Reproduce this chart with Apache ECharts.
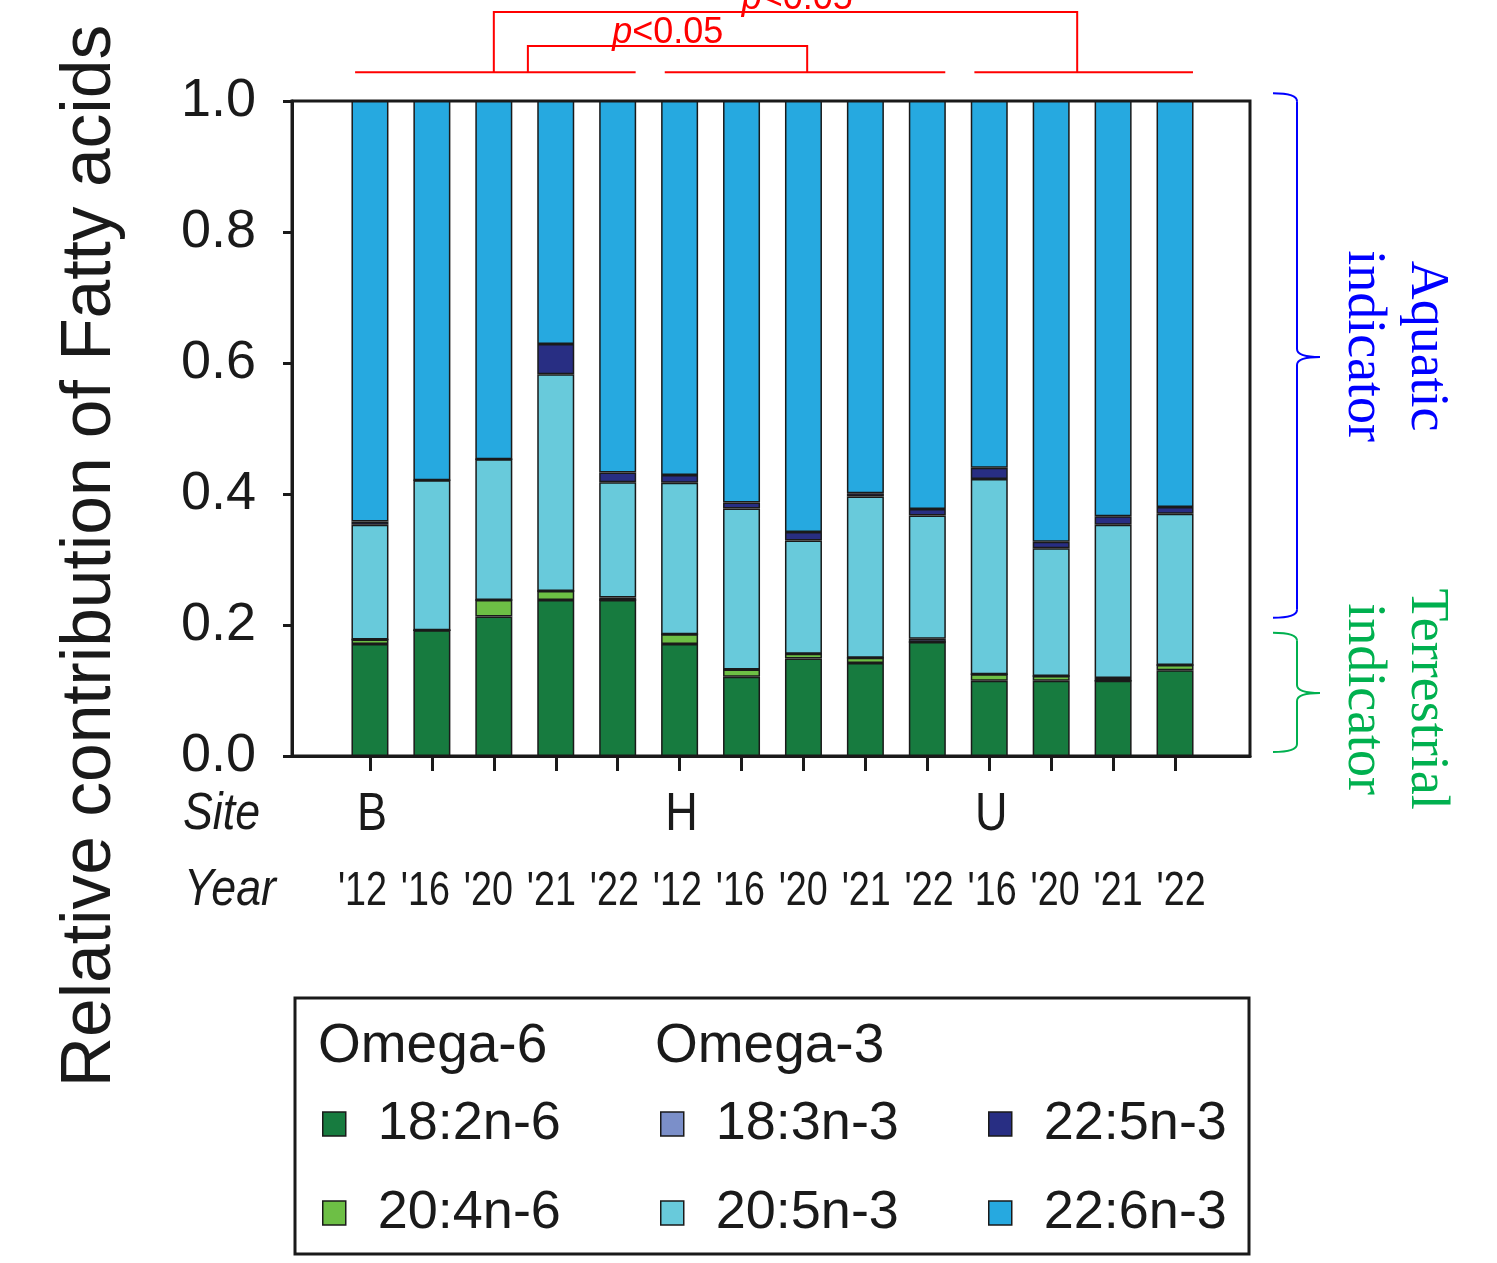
<!DOCTYPE html>
<html>
<head>
<meta charset="utf-8">
<title>Relative contribution of fatty acids</title>
<script src="https://cdn.jsdelivr.net/npm/echarts@6.0.0/dist/echarts.min.js"></script>
<style>
  html, body { margin: 0; padding: 0; background: #ffffff; }
  #chart { width: 1497px; height: 1263px; }
</style>
</head>
<body>
<div id="chart"></div>
<script>
// Sampling sites and years, one stacked bar each
const sites = ['B', 'B', 'B', 'B', 'B', 'H', 'H', 'H', 'H', 'H', 'U', 'U', 'U', 'U'];
const years = ["'12", "'16", "'20", "'21", "'22", "'12", "'16", "'20", "'21", "'22", "'16", "'20", "'21", "'22"];

// Relative contribution of each fatty acid (each bar sums to 1)
const fa18_2n6 = [0.171, 0.192, 0.213, 0.238, 0.238, 0.171, 0.121, 0.149, 0.142, 0.174, 0.115, 0.115, 0.115, 0.131];
const fa20_4n6 = [0.007, 0.000, 0.025, 0.014, 0.000, 0.015, 0.011, 0.007, 0.008, 0.000, 0.010, 0.007, 0.000, 0.008];
const fa18_3n3 = [0.000, 0.000, 0.000, 0.000, 0.004, 0.000, 0.000, 0.000, 0.000, 0.005, 0.000, 0.000, 0.004, 0.000];
const fa20_5n3 = [0.175, 0.229, 0.215, 0.331, 0.176, 0.231, 0.246, 0.173, 0.246, 0.188, 0.298, 0.195, 0.234, 0.231];
const fa22_5n3 = [0.005, 0.000, 0.000, 0.046, 0.015, 0.012, 0.009, 0.013, 0.005, 0.010, 0.017, 0.010, 0.013, 0.010];
const fa22_6n3 = [0.642, 0.579, 0.547, 0.371, 0.567, 0.571, 0.613, 0.658, 0.599, 0.623, 0.560, 0.673, 0.634, 0.620];

const seriesNames = ['18:2n-6', '20:4n-6', '18:3n-3', '20:5n-3', '22:5n-3', '22:6n-3'];
const seriesValues = [fa18_2n6, fa20_4n6, fa18_3n3, fa20_5n3, fa22_5n3, fa22_6n3];
const seriesColors = ['#177b3f', '#6dbf45', '#7b8fc9', '#68cadb', '#282e83', '#26a9e0'];

// Site groups and the significance brackets between them (category units)
const siteGroups = [[0, 4], [5, 9], [10, 13]];
const sigBrackets = [
  { from: 2.55, to: 7.06, level: 1.084, labelAt: 4.81, label: '<0.05' },
  { from: 2.0, to: 11.42, level: 1.136, labelAt: 6.9, label: '<0.05' }
];
const groupLineLevel = 1.044;

// Indicator braces on the right (value units: top, tip, bottom)
const aquaticSpan = [1.012, 0.609, 0.211];
const terrestrialSpan = [0.188, 0.096, 0.006];

const categories = sites.map((s, i) => s + years[i]);

const INK = '#1a1a1a';
const SANS = '"Liberation Sans", Arial, sans-serif';
const SERIF = '"Liberation Serif", "Times New Roman", serif';

const chart = echarts.init(document.getElementById('chart'), null, { renderer: 'canvas' });

const option = {
  animation: false,
  backgroundColor: '#ffffff',
  grid: [
    { left: 292, top: 101, width: 958, height: 655, show: true, borderColor: INK, borderWidth: 3,
      backgroundColor: 'transparent', outerBoundsMode: 'none', containLabel: false },
    { left: 339, top: 101, width: 867, height: 655, outerBoundsMode: 'none', containLabel: false }
  ],
  xAxis: [
    { gridIndex: 0, type: 'value', min: 0, max: 1,
      axisLine: { show: true, lineStyle: { color: INK, width: 3 } },
      axisTick: { show: false }, axisLabel: { show: false }, splitLine: { show: false } },
    { gridIndex: 1, type: 'category', data: categories,
      axisLine: { show: false },
      axisTick: { show: true, alignWithLabel: true, length: 15, lineStyle: { color: INK, width: 3 } },
      axisLabel: { show: false },
      splitLine: { show: false } }
  ],
  yAxis: [
    { gridIndex: 0, type: 'value', min: 0, max: 1, interval: 0.2,
      axisLine: { show: true, lineStyle: { color: INK, width: 3 } },
      axisTick: { show: true, inside: false, length: 9, lineStyle: { color: INK, width: 3 } },
      axisLabel: { margin: 36, fontFamily: SANS, fontSize: 54, color: INK, formatter: v => v.toFixed(1) },
      splitLine: { show: false } },
    { gridIndex: 1, type: 'value', min: 0, max: 1, show: false, splitLine: { show: false } }
  ],
  legend: [
    { data: seriesNames.slice(0, 2), left: 322 },
    { data: seriesNames.slice(2, 4), left: 660 },
    { data: seriesNames.slice(4, 6), left: 988 }
  ].map(l => Object.assign(l, {
    orient: 'vertical', top: 1097, padding: 0, itemGap: 35,
    icon: 'rect', itemWidth: 23, itemHeight: 24,
    itemStyle: { borderColor: INK, borderWidth: 1.5 },
    selectedMode: false,
    textStyle: { fontFamily: SANS, fontSize: 54, color: INK, lineHeight: 54, padding: [0, 0, 0, 27] }
  })),
  series: seriesNames.map((name, k) => ({
    name: name,
    type: 'bar',
    stack: 'fa',
    xAxisIndex: 1,
    yAxisIndex: 1,
    barWidth: 37,
    data: seriesValues[k],
    itemStyle: { color: seriesColors[k], borderColor: INK, borderWidth: 1.5 },
    emphasis: { disabled: true }
  }))
};

chart.setOption(option);

// Overlays placed through the axes' own scales
function px(c) {
  const p0 = chart.convertToPixel({ xAxisIndex: 1 }, 0);
  const p1 = chart.convertToPixel({ xAxisIndex: 1 }, 1);
  return p0 + c * (p1 - p0);
}
function py(v) {
  return chart.convertToPixel({ yAxisIndex: 1 }, v);
}

const RED = '#ff0000';
const graphics = [];

// Group baselines above each site
siteGroups.forEach(g => {
  graphics.push({
    type: 'line', z: 10,
    shape: { x1: px(g[0] - 0.24), y1: py(groupLineLevel), x2: px(g[1] + 0.29), y2: py(groupLineLevel) },
    style: { stroke: RED, lineWidth: 2 }
  });
});

// Significance brackets with labels
sigBrackets.forEach(b => {
  const yb = py(groupLineLevel), yl = py(b.level);
  graphics.push({
    type: 'polyline', z: 10,
    shape: { points: [[px(b.from), yb], [px(b.from), yl], [px(b.to), yl], [px(b.to), yb]] },
    style: { stroke: RED, lineWidth: 2, fill: null }
  });
  graphics.push({
    type: 'text', z: 11,
    x: px(b.labelAt), y: yl + 5,
    style: {
      text: '{i|p}{n|' + b.label + '}',
      align: 'center', verticalAlign: 'bottom',
      rich: {
        i: { fontFamily: SANS, fontSize: 36, fontStyle: 'italic', fill: RED, lineHeight: 36 },
        n: { fontFamily: SANS, fontSize: 36, fill: RED, lineHeight: 36 }
      }
    }
  });
});

// Curly braces marking the indicator groups
function brace(span, color) {
  const xe = 1250 + 23, xs = 1250 + 47, xp = 1250 + 70, r = 8;
  const yt = py(span[0]), ym = py(span[1]), yb = py(span[2]);
  const st = { stroke: color, lineWidth: 2, fill: null };
  return [
    { type: 'bezierCurve', z: 10, shape: { x1: xe, y1: yt, x2: xs, y2: yt + r, cpx1: xs, cpy1: yt }, style: st },
    { type: 'line', z: 10, shape: { x1: xs, y1: yt + r, x2: xs, y2: ym - r }, style: st },
    { type: 'bezierCurve', z: 10, shape: { x1: xs, y1: ym - r, x2: xp, y2: ym, cpx1: xs, cpy1: ym }, style: st },
    { type: 'bezierCurve', z: 10, shape: { x1: xp, y1: ym, x2: xs, y2: ym + r, cpx1: xs, cpy1: ym }, style: st },
    { type: 'line', z: 10, shape: { x1: xs, y1: ym + r, x2: xs, y2: yb - r }, style: st },
    { type: 'bezierCurve', z: 10, shape: { x1: xs, y1: yb - r, x2: xe, y2: yb, cpx1: xs, cpy1: yb }, style: st }
  ];
}
const BLUE = '#0000ff', GREEN = '#00b04f';
graphics.push(...brace(aquaticSpan, BLUE));
graphics.push(...brace(terrestrialSpan, GREEN));

graphics.push({
  type: 'text', z: 10, x: 1395, y: py(aquaticSpan[1]) - 11, rotation: -Math.PI / 2,
  style: { text: 'Aquatic\nindicator', font: '54px ' + SERIF, fill: BLUE, align: 'center', verticalAlign: 'middle', lineHeight: 63 }
});
graphics.push({
  type: 'text', z: 10, x: 1395, y: py(terrestrialSpan[1]) + 6, rotation: -Math.PI / 2,
  style: { text: 'Terrestrial\nindicator', font: '54px ' + SERIF, fill: GREEN, align: 'center', verticalAlign: 'middle', lineHeight: 63 }
});

// Y axis title
graphics.push({
  type: 'text', z: 10, x: 91, y: 556, rotation: Math.PI / 2,
  style: { text: 'Relative contribution of Fatty acids', font: '69.5px ' + SANS, fill: INK, align: 'center', verticalAlign: 'middle' }
});

// Category captions: site (first bar of each group) and year, under each tick.
// The year row is set slightly wider than the tick spacing.
const yearSpread = 1.04;
categories.forEach((c, i) => {
  if (i === 0 || sites[i] !== sites[i - 1]) {
    graphics.push({
      type: 'text', z: 10, x: px(i) + 2, y: 815, scaleX: 0.85,
      style: { text: sites[i], font: '53px ' + SANS, fill: INK, align: 'center', verticalAlign: 'middle' }
    });
  }
  graphics.push({
    type: 'text', z: 10, x: px(i) - 7.5 + i * yearSpread, y: 891, scaleX: 0.77,
    style: { text: years[i], font: '49px ' + SANS, fill: INK, align: 'center', verticalAlign: 'middle' }
  });
});
graphics.push({
  type: 'text', z: 10, x: 183, y: 815, scaleX: 0.86,
  style: { text: 'Site', font: 'italic 52px ' + SANS, fill: INK, align: 'left', verticalAlign: 'middle' }
});
graphics.push({
  type: 'text', z: 10, x: 184, y: 891, scaleX: 0.86,
  style: { text: 'Year', font: 'italic 52px ' + SANS, fill: INK, align: 'left', verticalAlign: 'middle' }
});

// Legend frame and column headers
graphics.push({
  type: 'rect', z: 1, shape: { x: 295, y: 998, width: 954, height: 256 },
  style: { stroke: INK, lineWidth: 3, fill: null }
});
graphics.push({
  type: 'text', z: 10, x: 318, y: 1047,
  style: { text: 'Omega-6', font: '55px ' + SANS, fill: INK, align: 'left', verticalAlign: 'middle' }
});
graphics.push({
  type: 'text', z: 10, x: 655, y: 1047,
  style: { text: 'Omega-3', font: '55px ' + SANS, fill: INK, align: 'left', verticalAlign: 'middle' }
});

chart.setOption({ graphic: graphics });
</script>
</body>
</html>
